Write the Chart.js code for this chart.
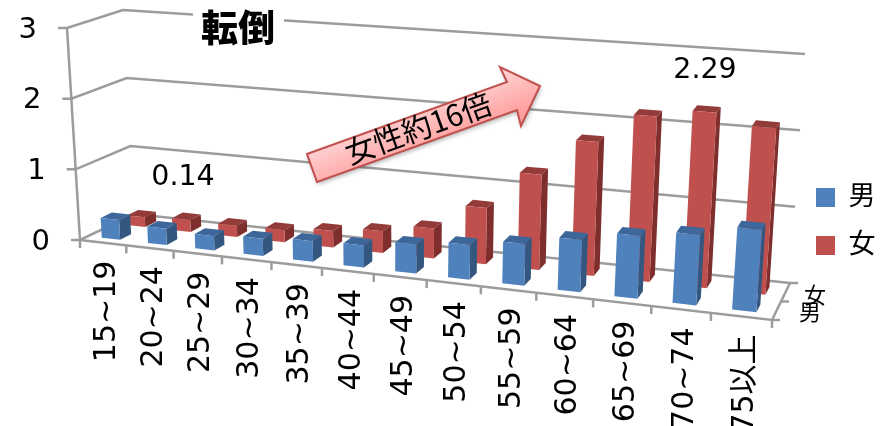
<!DOCTYPE html>
<html lang="ja">
<head>
<meta charset="utf-8">
<style>html,body{margin:0;padding:0;background:#fff}canvas{display:block}</style>
<script src="https://cdn.jsdelivr.net/npm/chart.js@4/dist/chart.umd.min.js"></script>
</head>
<body>
<canvas id="c" width="882" height="426"></canvas>
<script>
const categories = ['15~19','20~24','25~29','30~34','35~39','40~44','45~49','50~54','55~59','60~64','65~69','70~74','75以上'];
const maleValues = [0.28,0.23,0.20,0.24,0.28,0.30,0.39,0.46,0.55,0.68,0.81,0.90,1.04];
const femaleValues = [0.14,0.17,0.16,0.17,0.23,0.30,0.41,0.76,1.28,1.78,2.18,2.29,2.15];
const seriesNames = ['男','女'];
const yTicks = [0,1,2,3];
const titleText = '転倒';
const noteLow = '0.14';
const noteHigh = '2.29';
const arrowText = '女性約16倍';

const FONT = '"DejaVu Sans","Noto Sans CJK JP",sans-serif';
const GRID = '#9c9c9c';
Chart.defaults.font.family = FONT;
Chart.defaults.color = '#000';

// corners of the 3D box on the page: [front/back][left/right][floor/top]
const box = {
  fl0:[80,240], fr0:[772,320], bl0:[134,214], br0:[790,283],
  fl1:[67,28],  fr1:[789,80],  bl1:[123,10],  br1:[805,54]
};
const persp = 1.162;
function lerp(a,b,t){return [a[0]+(b[0]-a[0])*t, a[1]+(b[1]-a[1])*t];}
function P(u,d,v){
  const w = u/(u+persp*(1-u));
  const f0=lerp(box.fl0,box.fr0,w), b0=lerp(box.bl0,box.br0,w);
  const f1=lerp(box.fl1,box.fr1,w), b1=lerp(box.bl1,box.br1,w);
  return lerp(lerp(f0,b0,d), lerp(f1,b1,d), v);
}
function poly(ctx,pts,fill){
  ctx.beginPath();
  pts.forEach((p,i)=> i?ctx.lineTo(p[0],p[1]):ctx.moveTo(p[0],p[1]));
  ctx.closePath();
  ctx.fillStyle=fill; ctx.fill();
}
function line(ctx,pts){
  ctx.beginPath();
  pts.forEach((p,i)=> i?ctx.lineTo(p[0],p[1]):ctx.moveTo(p[0],p[1]));
  ctx.stroke();
}
const rows = [
  {d0:0.15,d1:0.36,side:'#34577f',top:'#3d679b'},
  {d0:0.63,d1:0.84,side:'#7e2f2d',top:'#923b39'}
];

const box3d = {
  id:'box3d',
  afterLayout(chart){
    const lg = chart.legend;
    lg.left = 795; lg.top = 163; lg.right = 882; lg.bottom = 300;
    // tick labels follow the slanted box edges
    const area = chart.chartArea;
    const xs = chart.scales.x, ys = chart.scales.y;
    xs.getLabelItems(area).forEach((it,i)=>{
      const p = P((i+0.5)/categories.length,0,0);
      it.options.translation = [p[0]-14,p[1]+18];
    });
    ys.getLabelItems(area).forEach((it,i)=>{
      const val = ys.ticks[i].value;
      const p = P(0,0,val/ys.max);
      it.options.translation = [p[0]-30,p[1]+2];
    });
  },
  beforeDatasetsDraw(chart){
    const ctx = chart.ctx, a = chart.chartArea, ys = chart.scales.y;
    ctx.save();
    // walls, floor, ticks
    ctx.strokeStyle = GRID; ctx.lineWidth = 2.5; ctx.lineCap='butt';
    ys.ticks.forEach(t=>{
      const v = t.value/ys.max;
      const p0=P(0,0,v), p1=P(0,1,v), p2=P(1,1,v);
      line(ctx,[[p0[0]-9,p0[1]],p0,p1,p2]);
    });
    line(ctx,[P(0,0,0),P(0,0,1)]);
    line(ctx,[P(0,0,0),P(1,0,0),P(1,1,0)]);
    for(let i=0;i<=categories.length;i++){
      const p=P(i/categories.length,0,0);
      line(ctx,[p,[p[0],p[1]+8]]);
    }
    [0,0.5,1].forEach(d=>{
      const p=P(1,d,0);
      line(ctx,[p,[p[0]+8,p[1]]]);
    });
    // bars, read from the chart's own elements: back row first
    [1,0].forEach(ds=>{
      const meta = chart.getDatasetMeta(ds), r = rows[ds];
      const face = chart.data.datasets[ds].backgroundColor;
      meta.data.forEach(el=>{
        const W = a.right-a.left, H = a.bottom-a.top;
        const u0=(el.x-el.width/2-a.left)/W, u1=(el.x+el.width/2-a.left)/W;
        const v=(a.bottom-el.y)/H;
        poly(ctx,[P(u1,r.d0,0),P(u1,r.d1,0),P(u1,r.d1,v),P(u1,r.d0,v)],r.side);
        poly(ctx,[P(u0,r.d0,v),P(u1,r.d0,v),P(u1,r.d1,v),P(u0,r.d1,v)],r.top);
        poly(ctx,[P(u0,r.d0,0),P(u1,r.d0,0),P(u1,r.d0,v),P(u0,r.d0,v)],face);
      });
    });
    ctx.restore();
    return false;
  },
  afterDraw(chart){
    const ctx = chart.ctx;
    ctx.save();
    ctx.textAlign='center'; ctx.textBaseline='middle'; ctx.fillStyle='#000';
    // depth axis labels
    ctx.font='22px '+FONT;
    ctx.fillText(seriesNames[1],815,297);
    ctx.fillText(seriesNames[0],810,314);
    // notes
    ctx.font='28.5px '+FONT;
    ctx.fillText(noteLow,183,178);
    ctx.fillText(noteHigh,705,71);
    // title on a white plate
    ctx.fillStyle='#fff'; ctx.fillRect(193,6,91,42);
    ctx.fillStyle='#000';
    ctx.font='900 37px "Noto Sans CJK JP",'+FONT;
    ctx.fillText(titleText,238,28);
    // arrow callout
    const arrow=[[307,154],[507,82],[500,67],[540,86],[521,126],[517,110],[317,182]];
    const g=ctx.createLinearGradient(395,95,420,155);
    g.addColorStop(0,'#ffe6e6'); g.addColorStop(1,'#ff9f9f');
    ctx.save();
    ctx.shadowColor='rgba(0,0,0,0.35)'; ctx.shadowBlur=5; ctx.shadowOffsetX=1; ctx.shadowOffsetY=2;
    poly(ctx,arrow,g);
    ctx.restore();
    ctx.strokeStyle='#c0504d'; ctx.lineWidth=2; ctx.lineJoin='miter';
    ctx.beginPath();
    arrow.forEach((p,i)=> i?ctx.lineTo(p[0],p[1]):ctx.moveTo(p[0],p[1]));
    ctx.closePath(); ctx.stroke();
    ctx.translate(418,128); ctx.rotate(-19.8*Math.PI/180);
    ctx.fillStyle='#000'; ctx.font='30px "Noto Sans CJK JP",'+FONT;
    ctx.fillText(arrowText,0,0);
    ctx.restore();
  }
};

new Chart(document.getElementById('c'),{
  type:'bar',
  data:{labels:categories,datasets:[
    {label:seriesNames[0],data:maleValues,backgroundColor:'#4f81bd',grouped:false,barPercentage:0.4,categoryPercentage:1},
    {label:seriesNames[1],data:femaleValues,backgroundColor:'#c0504d',grouped:false,barPercentage:0.4,categoryPercentage:1}
  ]},
  options:{
    responsive:false,animation:false,
    devicePixelRatio:1,
    layout:{padding:{top:28,left:10,right:0,bottom:0}},
    plugins:{
      tooltip:{enabled:false},
      title:{display:false},
      legend:{display:true,position:'right',align:'start',
        labels:{boxWidth:19,boxHeight:19,font:{size:27},padding:21,color:'#000'}}
    },
    scales:{
      x:{grid:{display:false},border:{display:false},
         afterFit(s){s.height=186;},
         ticks:{autoSkip:false,minRotation:90,maxRotation:90,font:{size:30},color:'#000',padding:0}},
      y:{min:0,max:3,grid:{display:false},border:{display:false},
         afterFit(s){s.width=60;},
         ticks:{stepSize:1,font:{size:29},color:'#000',padding:0,
           callback:(v)=> yTicks.includes(v)?String(v):''}}
    }
  },
  plugins:[box3d]
});
</script>
</body>
</html>
